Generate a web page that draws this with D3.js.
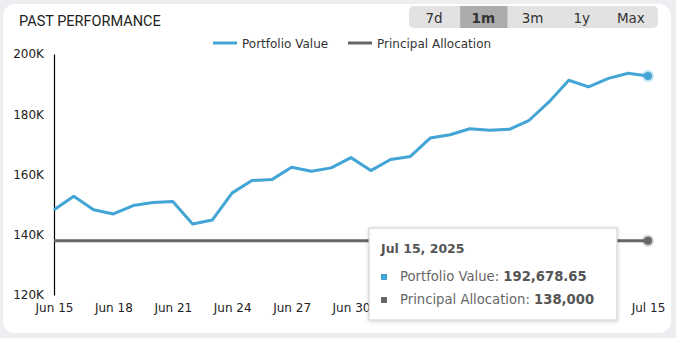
<!DOCTYPE html>
<html>
<head>
<meta charset="utf-8">
<script src="https://cdn.jsdelivr.net/npm/d3@7"></script>
<style>
  html, body { margin: 0; padding: 0; background: #eceef2; }
  svg { display: block; }
</style>
</head>
<body>
<svg id="chart" width="676" height="338"></svg>
<script>
const dates = ["2025-06-15","2025-06-16","2025-06-17","2025-06-18","2025-06-19","2025-06-20","2025-06-21","2025-06-22","2025-06-23","2025-06-24","2025-06-25","2025-06-26","2025-06-27","2025-06-28","2025-06-29","2025-06-30","2025-07-01","2025-07-02","2025-07-03","2025-07-04","2025-07-05","2025-07-06","2025-07-07","2025-07-08","2025-07-09","2025-07-10","2025-07-11","2025-07-12","2025-07-13","2025-07-14","2025-07-15"];
const portfolioValue = [148300,152800,148300,146900,149700,150700,151000,143600,144900,153900,158000,158300,162400,161100,162200,165600,161300,165000,166000,172100,173200,175200,174700,175000,178000,184100,191300,189100,191900,193600,192678.65];
const principalAllocation = dates.map(() => 138000);
const yTicks = [120000,140000,160000,180000,200000];
// visible x tick labels (the ones between Jun 30 and Jul 15 sit under the tooltip)
const xTicks = ["2025-06-15","2025-06-18","2025-06-21","2025-06-24","2025-06-27","2025-06-30","2025-07-15"];
const rangeButtons = ["7d","1m","3m","1y","Max"];
const activeButton = "1m";
const seriesNames = ["Portfolio Value","Principal Allocation"];
const seriesColors = ["#42a5d5","#666666"];

const parse = d3.timeParse("%Y-%m-%d");
const pts = dates.map((d,i) => ({date: parse(d), pv: portfolioValue[i], pa: principalAllocation[i]}));

const svg = d3.select("#chart");

// card
svg.append("rect").attr("x",3).attr("y",4).attr("width",668).attr("height",329)
  .attr("rx",12).attr("fill","#ffffff");

// title
svg.append("text").attr("x",19).attr("y",26).text("PAST PERFORMANCE")
  .attr("font-family","Roboto, Arial, sans-serif").attr("font-size",14.5).attr("fill","#222");

// range buttons
const btnX = d3.scaleBand().domain(rangeButtons).range([410,655]).paddingInner(0.02);
const bg = svg.append("g");
bg.append("rect").attr("x",409).attr("y",6).attr("width",249).attr("height",22).attr("rx",5).attr("fill","#e2e2e2");
rangeButtons.forEach(b => {
  if (b === activeButton) {
    bg.append("rect").attr("x",btnX(b)+1).attr("y",6).attr("width",btnX.bandwidth()-1).attr("height",22).attr("fill","#ababab");
  }
  bg.append("text").attr("x",btnX(b)+btnX.bandwidth()/2).attr("y",22.5).attr("text-anchor","middle")
    .attr("font-family","DejaVu Sans, Verdana, sans-serif").attr("font-size",13.5)
    .attr("font-weight", b===activeButton ? "bold" : "normal")
    .attr("fill","#333").text(b);
});

// scales
const x = d3.scaleTime().domain([pts[0].date, pts[pts.length-1].date]).range([54,648]);
const y = d3.scaleLinear().domain([120000,200000]).range([295,54]);

// legend
const legendX = [213, 348];
seriesNames.forEach((n,i) => {
  const g = svg.append("g").attr("transform",`translate(${legendX[i]},43)`);
  g.append("line").attr("x1",0).attr("x2",24).attr("y1",0).attr("y2",0).attr("stroke",seriesColors[i]).attr("stroke-width",3);
  g.append("text").attr("x",29).attr("y",4.5).text(n)
    .attr("font-family","DejaVu Sans, Verdana, sans-serif").attr("font-size",12).attr("fill","#333");
});

// y axis
const yAxis = svg.append("g").attr("transform","translate(54,0)")
  .call(d3.axisLeft(y).tickValues(yTicks).tickSize(0).tickPadding(10).tickFormat(d => d3.format("d")(d/1000)+"K"));
yAxis.select(".domain").attr("stroke","#000").attr("stroke-width",1.2);
yAxis.selectAll("text").attr("font-family","DejaVu Sans, Verdana, sans-serif").attr("font-size",12).attr("fill","#222");

// x axis
const xAxis = svg.append("g").attr("transform","translate(0,300)")
  .call(d3.axisBottom(x).tickValues(xTicks.map(parse)).tickSize(0).tickPadding(3).tickFormat(d3.timeFormat("%b %-d")));
xAxis.select(".domain").remove();
xAxis.selectAll("text").attr("font-family","DejaVu Sans, Verdana, sans-serif").attr("font-size",12).attr("fill","#222");

// lines
const linePA = d3.line().x(d => x(d.date)).y(d => y(d.pa));
const linePV = d3.line().x(d => x(d.date)).y(d => y(d.pv));
svg.append("path").datum(pts).attr("d",linePA).attr("fill","none").attr("stroke",seriesColors[1]).attr("stroke-width",3);
svg.append("path").datum(pts).attr("d",linePV).attr("fill","none").attr("stroke",seriesColors[0]).attr("stroke-width",3).attr("stroke-linejoin","round");

// end markers
const last = pts[pts.length-1];
svg.append("circle").attr("cx",x(last.date)).attr("cy",y(last.pv)).attr("r",6).attr("fill",seriesColors[0]).attr("opacity",0.3);
svg.append("circle").attr("cx",x(last.date)).attr("cy",y(last.pv)).attr("r",4).attr("fill",seriesColors[0]);
svg.append("circle").attr("cx",x(last.date)).attr("cy",y(last.pa)).attr("r",6).attr("fill",seriesColors[1]).attr("opacity",0.3);
svg.append("circle").attr("cx",x(last.date)).attr("cy",y(last.pa)).attr("r",4).attr("fill",seriesColors[1]);

// tooltip
const defs = svg.append("defs");
const f = defs.append("filter").attr("id","sh").attr("x","-10%").attr("y","-10%").attr("width","120%").attr("height","130%");
f.append("feDropShadow").attr("dx",0).attr("dy",1).attr("stdDeviation",2).attr("flood-color","#000").attr("flood-opacity",0.18);
const tt = svg.append("g").attr("transform","translate(369,228)");
tt.append("rect").attr("x",0).attr("y",0).attr("width",248).attr("height",92).attr("fill","#fff")
  .attr("stroke","#cccccc").attr("stroke-width",1).attr("filter","url(#sh)");
tt.append("text").attr("x",12).attr("y",25).text(d3.timeFormat("%b %-d, %Y")(last.date))
  .attr("font-family","DejaVu Sans, Verdana, sans-serif").attr("font-size",12.5).attr("font-weight","bold").attr("fill","#555");
const rows = [[seriesNames[0], d3.format(",.2f")(last.pv)], [seriesNames[1], d3.format(",")(last.pa)]];
rows.forEach((r,i) => {
  const yy = 53 + i*23;
  tt.append("rect").attr("x",12).attr("y",yy-7).attr("width",6).attr("height",6).attr("fill",seriesColors[i]);
  const t = tt.append("text").attr("x",31).attr("y",yy).attr("font-family","DejaVu Sans, Verdana, sans-serif").attr("font-size",13.2).attr("fill","#666");
  t.append("tspan").text(r[0] + ": ");
  t.append("tspan").attr("font-weight","bold").attr("fill","#555").text(r[1]);
});
</script>
</body>
</html>
